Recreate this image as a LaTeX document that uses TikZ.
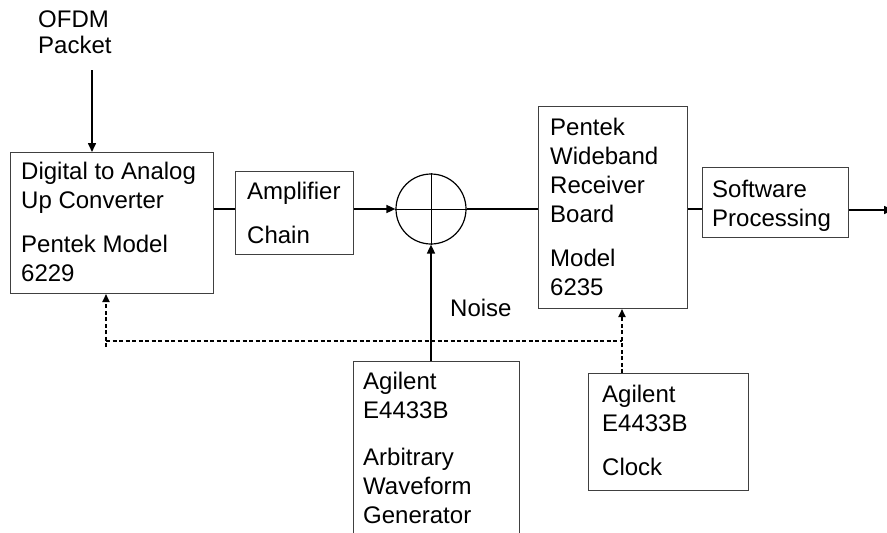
\documentclass[tikz,border=0pt]{standalone}
\usepackage{fontspec}
\setmainfont{Liberation Sans}
\usetikzlibrary{arrows.meta}
\begin{document}
\begin{tikzpicture}[x=1pt,y=-1pt,
 box/.style={draw=black!75, line width=1pt, inner sep=0pt, anchor=north west},
 lbl/.style={anchor=north west, inner sep=0pt, align=left, font=\fontsize{24}{29}\selectfont},
 conn/.style={line width=1.6pt, draw=black},
 arr/.style={conn, -{Triangle[length=9pt,width=8pt]}},
 dsh/.style={line width=1.7pt, dash pattern=on 4pt off 2.5pt},
 darr/.style={dsh, -{Triangle[length=8pt,width=7pt]}}]
\useasboundingbox (0,0) rectangle (887,533);
\clip (0,0) rectangle (887,533);

% boxes
\node[box, minimum width=203pt, minimum height=141pt] (dac) at (10,152) {};
\node[box, minimum width=118pt, minimum height=83pt] (amp) at (235,171) {};
\node[circle, draw=black, line width=1.2pt, minimum size=70pt, inner sep=0pt] (sum) at (431,209) {};
\node[box, minimum width=149pt, minimum height=202pt] (pent) at (538,106) {};
\node[box, minimum width=146pt, minimum height=70pt] (sw) at (702,167) {};
\node[box, minimum width=166pt, minimum height=220pt] (awg) at (353,361) {};
\node[box, minimum width=160pt, minimum height=117pt] (clk) at (588,373) {};

\draw[line width=1pt] (sum.north) -- (sum.south);
\draw[line width=1pt] (sum.west) -- (sum.east);

% texts
\node[lbl] (tofdm) at (38,9) {\rule{0pt}{18pt}OFDM\\[-3pt]Packet};
\node[lbl] (tdac) at (21,161) {\rule{0pt}{18pt}Digital to Analog\\Up Converter\\[15pt]Pentek Model\\6229};
\node[lbl] (tamp) at (247,181) {\rule{0pt}{18pt}Amplifier\\[15pt]Chain};
\node[lbl] (tpent) at (550,117) {\rule{0pt}{18pt}Pentek\\Wideband\\Receiver\\Board\\[15pt]Model\\6235};
\node[lbl] (tsw) at (712,179) {\rule{0pt}{18pt}Software\\Processing};
\node[lbl] (tnoise) at (450,298) {\rule{0pt}{18pt}Noise};
\node[lbl] (tawg) at (363,371) {\rule{0pt}{18pt}Agilent\\E4433B\\[18pt]Arbitrary\\Waveform\\Generator};
\node[lbl] (tclk) at (602,384) {\rule{0pt}{18pt}Agilent\\E4433B\\[15pt]Clock};

% connectors
\coordinate (oin) at (92,70);
\draw[arr] (oin) -- (oin |- dac.north);
\draw[conn] (dac.east |- sum.west) -- (amp.west |- sum.west);
\draw[arr] (amp.east |- sum.west) -- (sum.west);
\draw[conn] (sum.east) -- (pent.west |- sum.east);
\draw[conn] (pent.east |- sum.east) -- (sw.west |- sum.east);
\coordinate (out) at (893,210);
\draw[arr] (sw.east |- out) -- (out);

% dashed control lines
\coordinate (cl) at (106,341);
\coordinate (cr) at (622,341);
\draw[dsh] (cl) -- (cr);
\draw[darr] ([yshift=-6pt]cl) -- (cl |- dac.south);
\draw[darr] (cr |- clk.north) -- (cr |- pent.south);

% noise
\draw[arr] (sum.south |- awg.north) -- (sum.south);
\end{tikzpicture}
\end{document}
